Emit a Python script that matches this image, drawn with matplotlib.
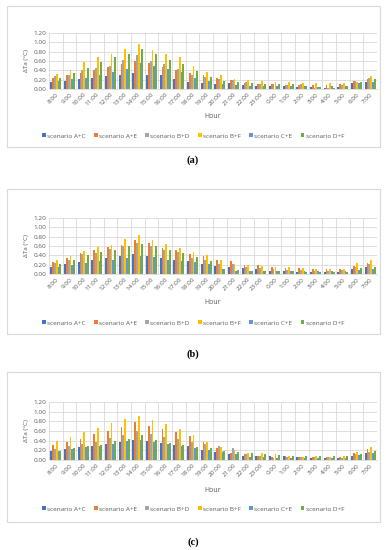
import matplotlib
matplotlib.use("Agg")
import matplotlib.pyplot as plt
from matplotlib.patches import Rectangle
import numpy as np

hours = ["8:00","9:00","10:00","11:00","12:00","13:00","14:00","15:00","16:00","17:00","18:00","19:00",
         "20:00","21:00","22:00","23:00","0:00","1:00","2:00","3:00","4:00","5:00","6:00","7:00"]
scenarios = ["scenario A+C","scenario A+E","scenario B+D","scenario B+F","scenario C+E","scenario D+F"]
colors = ["#4472C4","#ED7D31","#A5A5A5","#FFC000","#5B9BD5","#70AD47"]

# panel (a)
a_AC = [0.14,0.17,0.21,0.24,0.27,0.31,0.35,0.31,0.29,0.21,0.16,0.12,0.10,0.12,0.09,0.07,0.07,0.06,0.05,0.04,0.03,0.05,0.12,0.14]
a_AE = [0.24,0.30,0.35,0.41,0.47,0.54,0.61,0.55,0.47,0.41,0.35,0.30,0.24,0.19,0.12,0.10,0.11,0.09,0.09,0.08,0.08,0.11,0.18,0.21]
a_BD = [0.28,0.31,0.40,0.44,0.49,0.63,0.72,0.59,0.53,0.43,0.31,0.26,0.21,0.19,0.14,0.10,0.10,0.09,0.10,0.03,0.02,0.09,0.18,0.23]
a_BF = [0.32,0.40,0.58,0.69,0.74,0.85,0.96,0.83,0.75,0.68,0.49,0.37,0.29,0.21,0.19,0.18,0.15,0.14,0.12,0.12,0.12,0.12,0.15,0.28]
a_CE = [0.17,0.21,0.24,0.29,0.37,0.43,0.55,0.50,0.43,0.37,0.23,0.18,0.10,0.09,0.06,0.06,0.06,0.06,0.06,0.05,0.06,0.06,0.12,0.15]
a_DF = [0.24,0.34,0.45,0.57,0.68,0.76,0.86,0.74,0.63,0.54,0.38,0.26,0.17,0.14,0.12,0.10,0.10,0.10,0.06,0.05,0.03,0.06,0.14,0.21]

# panel (b)
b_AC = [0.16,0.21,0.25,0.31,0.35,0.39,0.43,0.38,0.35,0.30,0.27,0.21,0.18,0.15,0.12,0.10,0.07,0.06,0.05,0.05,0.05,0.05,0.11,0.14]
b_AE = [0.25,0.35,0.45,0.51,0.58,0.63,0.73,0.67,0.56,0.51,0.42,0.39,0.31,0.27,0.19,0.19,0.14,0.12,0.12,0.10,0.10,0.10,0.18,0.23]
b_BD = [0.23,0.31,0.42,0.46,0.53,0.60,0.67,0.60,0.52,0.47,0.35,0.29,0.22,0.22,0.16,0.12,0.10,0.09,0.08,0.07,0.07,0.08,0.16,0.21]
b_BF = [0.31,0.39,0.50,0.58,0.63,0.75,0.83,0.73,0.64,0.56,0.48,0.41,0.29,0.22,0.20,0.18,0.15,0.15,0.12,0.10,0.10,0.10,0.24,0.30]
b_CE = [0.14,0.19,0.23,0.28,0.31,0.35,0.39,0.36,0.31,0.28,0.25,0.21,0.10,0.07,0.06,0.06,0.06,0.06,0.06,0.06,0.06,0.06,0.09,0.10]
b_DF = [0.21,0.30,0.41,0.48,0.52,0.60,0.65,0.60,0.52,0.45,0.37,0.28,0.10,0.08,0.06,0.06,0.06,0.06,0.05,0.05,0.05,0.05,0.12,0.16]

# panel (c)
c_AC = [0.19,0.23,0.26,0.29,0.33,0.37,0.41,0.39,0.35,0.31,0.29,0.21,0.16,0.12,0.09,0.08,0.08,0.08,0.06,0.05,0.05,0.05,0.09,0.15]
c_AE = [0.31,0.37,0.43,0.53,0.61,0.69,0.79,0.71,0.65,0.57,0.49,0.38,0.25,0.15,0.12,0.08,0.07,0.08,0.07,0.06,0.06,0.06,0.14,0.22]
c_BD = [0.23,0.29,0.33,0.37,0.45,0.51,0.60,0.53,0.48,0.43,0.37,0.34,0.29,0.24,0.13,0.09,0.05,0.06,0.06,0.06,0.06,0.05,0.12,0.17]
c_BF = [0.40,0.48,0.58,0.67,0.76,0.84,0.92,0.83,0.74,0.65,0.51,0.37,0.27,0.20,0.14,0.14,0.13,0.09,0.07,0.08,0.07,0.09,0.16,0.26]
c_CE = [0.18,0.22,0.26,0.30,0.34,0.39,0.41,0.38,0.34,0.29,0.25,0.21,0.17,0.12,0.06,0.06,0.05,0.05,0.05,0.05,0.05,0.05,0.11,0.14]
c_DF = [0.19,0.24,0.28,0.32,0.39,0.43,0.52,0.41,0.36,0.31,0.27,0.24,0.19,0.17,0.14,0.13,0.11,0.08,0.08,0.08,0.08,0.08,0.12,0.18]

panels = [
    ("(a)", [a_AC, a_AE, a_BD, a_BF, a_CE, a_DF]),
    ("(b)", [b_AC, b_AE, b_BD, b_BF, b_CE, b_DF]),
    ("(c)", [c_AC, c_AE, c_BD, c_BF, c_CE, c_DF]),
]
yticks = [0.0, 0.2, 0.4, 0.6, 0.8, 1.0, 1.2]

W, H = 386, 550
plt.rcParams['font.family'] = ['Open Sans', 'DejaVu Sans']
fig = plt.figure(figsize=(W/100, H/100), dpi=100)

# layout in pixels: (box_top, box_bottom, plot_top, plot_bottom, hour_y, legend_y, label_y)
layouts = [
    (6, 147, 33, 89, 117, 136, 160),
    (189, 334, 218, 274, 303, 323, 354),
    (372, 522, 402, 460, 490, 509, 542),
]
box_l, box_r = 7, 380
plot_l, plot_r = 49, 377

def fy(y):
    return 1 - y / H

txtc = "#595959"
for (lab, series), (bt, bb, pt, pb, hy, ly, laby) in zip(panels, layouts):
    fig.patches.append(Rectangle((box_l / W, fy(bb)), (box_r - box_l) / W, (bb - bt) / H,
                                 transform=fig.transFigure, facecolor="none",
                                 edgecolor="#D9D9D9", linewidth=0.8, zorder=-1))
    ax = fig.add_axes([plot_l / W, fy(pb), (plot_r - plot_l) / W, (pb - pt) / H])
    ax.set_facecolor("none")
    x = np.arange(len(hours))
    n = len(series)
    gw = 0.8
    bw = gw / n
    handles = []
    for i, (vals, col, name) in enumerate(zip(series, colors, scenarios)):
        h = ax.bar(x - gw / 2 + bw * (i + 0.5), vals, bw, color=col, label=name, zorder=3, linewidth=0)
        handles.append(h)
    ax.set_xlim(-0.5, len(hours) - 0.5)
    ax.set_ylim(0, 1.2)
    ax.set_yticks(yticks)
    ax.set_yticklabels([f"{v:.2f}" for v in yticks], fontsize=4.6, color=txtc)
    ax.set_xticks(x)
    ax.set_xticklabels(hours, rotation=45, ha="right", rotation_mode="anchor", fontsize=4.6, color=txtc)
    ax.set_xticks(np.arange(len(hours) + 1) - 0.5, minor=True)
    ax.tick_params(axis="both", which="both", length=0, pad=2)
    ax.grid(True, axis="y", which="major", color="#D9D9D9", linewidth=0.6, zorder=0)
    ax.grid(True, axis="x", which="minor", color="#D9D9D9", linewidth=0.6, zorder=0)
    ax.set_axisbelow(True)
    for s in ["top", "right", "left"]:
        ax.spines[s].set_visible(False)
    ax.spines["bottom"].set_color("#D9D9D9")
    ax.spines["bottom"].set_linewidth(0.6)
    ax.set_ylabel("ΔTa (°C)", fontsize=4.6, color=txtc, labelpad=3)
    fig.text((plot_l + plot_r) / 2 / W, fy(hy), "Hour", ha="center", va="center", fontsize=5, color=txtc)
    fig.legend(handles=handles, labels=scenarios, loc="center", bbox_to_anchor=(0.5, fy(ly)),
               ncol=6, frameon=False, fontsize=4.6, handlelength=0.6, handleheight=0.6,
               handletextpad=0.2, columnspacing=1.3, labelcolor=txtc, borderpad=0)
    fig.text(0.5, fy(laby), lab, ha="center", va="center", fontsize=7.5, fontweight="bold",
             family="Liberation Serif", color="black")

fig.savefig("out.png", dpi=100)
